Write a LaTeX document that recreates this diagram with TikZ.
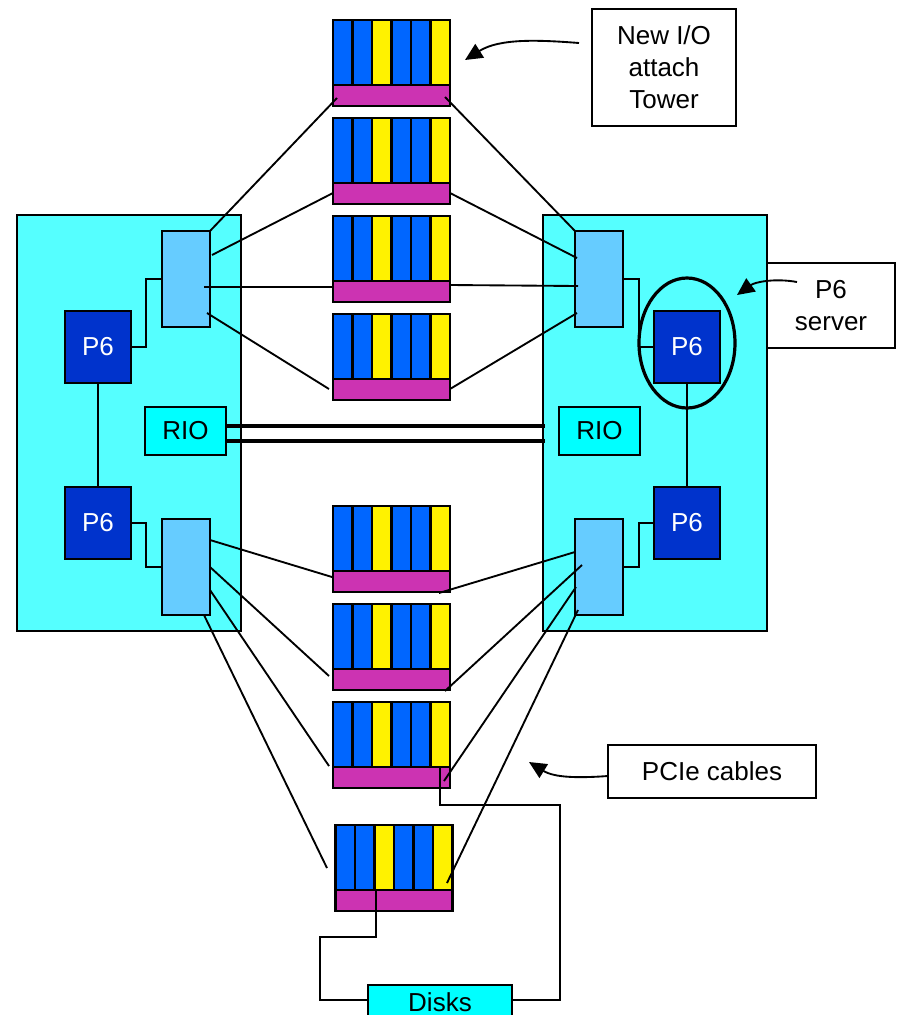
\documentclass[tikz,border=0pt]{standalone}
\usepackage{fontspec}
\setmainfont{Liberation Sans}
\usetikzlibrary{arrows.meta}
\definecolor{panelc}{HTML}{55FFFF}
\definecolor{swc}{HTML}{66CCFF}
\definecolor{cpuc}{HTML}{0033CC}
\definecolor{slotb}{HTML}{0066FF}
\definecolor{slotm}{HTML}{CC33B2}
\definecolor{rioc}{HTML}{00FFFF}
\tikzset{
  boxbase/.style={draw=black,line width=1.3pt,inner sep=0pt,outer sep=0pt,align=center,
    font=\fontsize{19.5}{24}\selectfont},
  panel/.style={boxbase,fill=panelc},
  switchbox/.style={boxbase,fill=swc},
  cpu/.style={boxbase,fill=cpuc,text=white},
  cyanbox/.style={boxbase,fill=rioc},
  label/.style={boxbase,fill=white},
  slotblue/.style={boxbase,line width=1.7pt,fill=slotb},
  slotyellow/.style={boxbase,line width=1.7pt,fill=yellow},
  slotbar/.style={boxbase,line width=1.7pt,fill=slotm},
  wire/.style={draw=black,line width=1.4pt},
  rio/.style={draw=black,line width=3.6pt},
  ring/.style={draw=black,line width=2.4pt},
  note/.style={draw=black,line width=1.4pt,-{Triangle[length=13pt,width=12pt]}},
}
% \bx{name}{style}{x1}{y1}{x2}{y2}{text}
\newcommand{\bx}[7]{%
  \pgfmathsetmacro{\bw}{((#5)-(#3))*0.75}\pgfmathsetmacro{\bh}{((#6)-(#4))*0.75}%
  \node[#2,minimum width=\bw pt,minimum height=\bh pt] (#1) at ({((#3)+(#5))/2},{((#4)+(#6))/2}) {#7};}
% \tower{name}{x}{y}
\newcommand{\tower}[3]{%
  \bx{#1s1}{slotblue}{#2}{#3}{#2+19.5}{#3+65}{}
  \bx{#1s2}{slotblue}{#2+19.5}{#3}{#2+39}{#3+65}{}
  \bx{#1s3}{slotyellow}{#2+39}{#3}{#2+58.5}{#3+65}{}
  \bx{#1s4}{slotblue}{#2+58.5}{#3}{#2+78}{#3+65}{}
  \bx{#1s5}{slotblue}{#2+78}{#3}{#2+97.5}{#3+65}{}
  \bx{#1s6}{slotyellow}{#2+97.5}{#3}{#2+117}{#3+65}{}
  \bx{#1b}{slotbar}{#2}{#3+65}{#2+117}{#3+86}{}}
\begin{document}
\begin{tikzpicture}[x=0.75pt,y=-0.75pt]
\clip (0,0) rectangle (899,1015);
\useasboundingbox (0,0) rectangle (899,1015);
% panels
\bx{pl}{panel}{17}{215}{241}{631}{}
\bx{pr}{panel}{543}{215}{767}{631}{}
% towers
\tower{t1}{333}{20}
\tower{t2}{333}{118}
\tower{t3}{333}{216}
\tower{t4}{333}{314}
\tower{t5}{333}{506}
\tower{t6}{333}{604}
\tower{t7}{333}{702}
\tower{t8}{335.5}{825}
% switches
\bx{swa}{switchbox}{162}{231}{210}{327}{}
\bx{swb}{switchbox}{162}{519}{210}{615}{}
\bx{swc}{switchbox}{575}{231}{623}{327}{}
\bx{swd}{switchbox}{575}{519}{623}{615}{}
% P6
\bx{ca}{cpu}{65}{311}{131}{383}{P6}
\bx{cb}{cpu}{65}{487}{131}{559}{P6}
\bx{cc}{cpu}{654}{311}{720}{383}{P6}
\bx{cd}{cpu}{654}{487}{720}{559}{P6}
% RIO
\bx{rl}{cyanbox}{145}{407}{226}{455}{RIO}
\bx{rr}{cyanbox}{559}{407}{640}{455}{RIO}
% labels
\bx{newio}{label}{592}{9}{736}{126}{New I/O\\attach\\Tower}
\bx{server}{label}{767}{263}{895}{348}{P6\\server}
\bx{pcie}{label}{608}{745}{816}{798}{PCIe cables}
\bx{disks}{cyanbox}{368}{985}{512}{1030}{}
\node[font=\fontsize{19.5}{24}\selectfont,inner sep=0pt] (disktext) at (440,1002) {Disks};
% named wire ends
\coordinate (a1) at (210,231);   \coordinate (b1) at (337,98);
\coordinate (a2) at (212,255);   \coordinate (b2) at (333,193);
\coordinate (a3) at (204,287);   \coordinate (b3) at (332,287);
\coordinate (a4) at (207,313);   \coordinate (b4) at (329,389);
\coordinate (c1) at (575,231);   \coordinate (d1) at (445,97);
\coordinate (c2) at (577,258);   \coordinate (d2) at (450,193);
\coordinate (c3) at (578,286);   \coordinate (d3) at (450,285);
\coordinate (c4) at (577,313);   \coordinate (d4) at (450,389);
\coordinate (e1) at (210,540);   \coordinate (f1) at (332,577);
\coordinate (e2) at (210,567);   \coordinate (f2) at (329,676);
\coordinate (e3) at (210,590);   \coordinate (f3) at (329,766);
\coordinate (e4) at (204,615);   \coordinate (f4) at (327,868);
\coordinate (g1) at (575,552);   \coordinate (h1) at (439,593);
\coordinate (g2) at (582,565);   \coordinate (h2) at (445,691);
\coordinate (g3) at (576,587);   \coordinate (h3) at (444,781);
\coordinate (g4) at (578,610);   \coordinate (h4) at (447,883);
% PCIe cables
\foreach \p/\q in {a1/b1,a2/b2,a3/b3,a4/b4,c1/d1,c2/d2,c3/d3,c4/d4,
                   e1/f1,e2/f2,e3/f3,e4/f4,g1/h1,g2/h2,g3/h3,g4/h4}
  \draw[wire] (\p) -- (\q);
% processor links
\draw[wire] (ca.south) -- (cb.north);
\draw[wire] (cc.south) -- (cd.north);
\draw[wire] (ca.east |- 0,347) -- (146,347) -- (146,279) -- (swa.west |- 0,279);
\draw[wire] (cb.east |- 0,523) -- (146,523) -- (146,567) -- (swb.west |- 0,567);
\draw[wire] (swc.east |- 0,279) -- (639,279) -- (639,347) -- (cc.west |- 0,347);
\draw[wire] (swd.east |- 0,567) -- (639,567) -- (639,523) -- (cd.west |- 0,523);
% RIO links
\draw[rio] (rl.east |- 0,426) -- (545,426);
\draw[rio] (rl.east |- 0,441) -- (545,441);
% disk links
\coordinate (k1) at (376,889);
\coordinate (k2) at (440,767);
\draw[wire] (k1) -- (376,937) -- (320,937) -- (320,1000) -- (disks.west |- 0,1000);
\draw[wire] (k2) -- (440,805) -- (560,805) -- (560,1000) -- (disks.east |- 0,1000);
% ring
\draw[ring] (687,343) ellipse [x radius=48,y radius=65];
% callouts
\coordinate (n1) at (579,43);  \coordinate (m1) at (465,60);
\coordinate (n2) at (797,282); \coordinate (m2) at (737,295);
\coordinate (n3) at (608,776); \coordinate (m3) at (529,762);
\draw[note] (n1) .. controls (540,40) and (500,38) .. (m1);
\draw[note] (n2) .. controls (775,278) and (755,282) .. (m2);
\draw[note] (n3) .. controls (580,778) and (555,778) .. (m3);
\end{tikzpicture}
\end{document}
